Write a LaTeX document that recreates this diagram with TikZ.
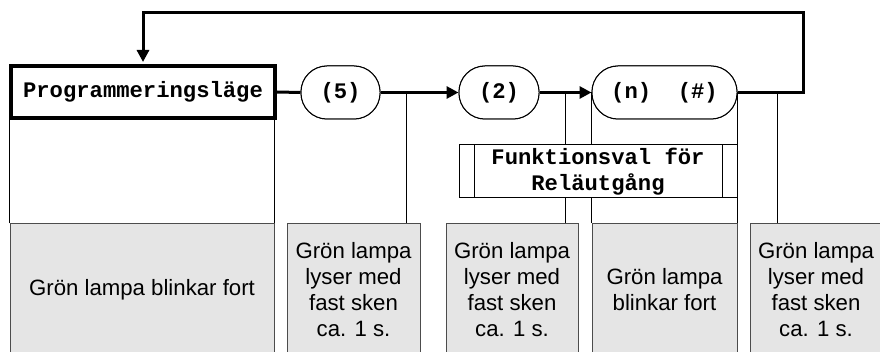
\documentclass[tikz,border=0pt]{standalone}
\usepackage{fontspec}
\setmainfont{Liberation Sans}
\setmonofont{Liberation Mono}
\usetikzlibrary{arrows.meta}
\begin{document}
\begin{tikzpicture}[x=1pt,y=-1pt,
 mono/.style={font=\ttfamily\bfseries\fontsize{22.2}{26}\selectfont},
 prog/.style={draw, line width=4pt, minimum width=264pt, minimum height=52pt, inner sep=0pt, mono, fill=white},
 pill/.style={draw, line width=1pt, rounded corners=26pt, minimum height=53pt, inner sep=0pt, mono, fill=white},
 sub/.style={draw, line width=1pt, minimum width=278pt, minimum height=53pt, inner sep=0pt, mono, align=center, fill=white},
 graybox/.style={draw=black!70, line width=1pt, fill=black!10, inner sep=0pt, align=center, minimum height=132pt, font=\fontsize{22.2}{26}\selectfont},
 conn/.style={line width=3pt},
 thinline/.style={line width=1pt},
 arr/.style={conn,-{Triangle[length=12pt,width=12pt]}}
]
\useasboundingbox (0,0) rectangle (880,352);
\clip (0,0) rectangle (880,352);

% gray boxes
\node[graybox, minimum width=264pt] (g1) at (142,290) {Grön lampa blinkar fort};
\node[graybox, minimum width=133pt] (g2) at (353.5,290) {Grön lampa\\lyser med\\fast sken\\ca. 1 s.};
\node[graybox, minimum width=132pt] (g3) at (512,290) {Grön lampa\\lyser med\\fast sken\\ca. 1 s.};
\node[graybox, minimum width=145pt] (g4) at (664.5,290) {Grön lampa\\blinkar fort};
\node[graybox, minimum width=132pt] (g5) at (816,290) {Grön lampa\\lyser med\\fast sken\\ca. 1 s.};

% main nodes (positions)
\node[prog] (prog) at (143,92) {Programmeringsläge};
\node[pill, minimum width=79pt] (p5) at (340.5,92.5) {(5)};
\node[pill, minimum width=80pt] (p2) at (499,92.5) {(2)};
\node[pill, minimum width=145pt] (pn) at (664.5,92.5) {(n)~~(\#)};

\coordinate (t5) at (406,93);
\coordinate (t2) at (565,93);
\coordinate (t6) at (777,93);
\coordinate (lr) at (803,13);

% vertical thin lines
\draw[thinline] (g1.north west) -- (g1.north west |- prog.south);
\draw[thinline] (g1.north east) -- (g1.north east |- prog.south);
\draw[thinline] (t5) -- (t5 |- g2.north);
\draw[thinline] (t2) -- (t2 |- g3.north);
\draw[thinline] (pn.west) -- (pn.west |- g4.north);
\draw[thinline] (pn.east) -- (pn.east |- g4.north);
\draw[thinline] (t6) -- (t6 |- g5.north);

% sub-process box
\node[sub] (fv) at (598,171.5) {Funktionsval för\\Reläutgång};
\draw[thinline] ([xshift=16pt]fv.north west) -- ([xshift=16pt]fv.south west);
\draw[thinline] ([xshift=-15pt]fv.north east) -- ([xshift=-15pt]fv.south east);

% redraw nodes on top
\node[prog] at (prog) {Programmeringsläge};
\node[pill, minimum width=79pt] at (p5) {(5)};
\node[pill, minimum width=80pt] at (p2) {(2)};
\node[pill, minimum width=145pt] at (pn) {(n)~~(\#)};

% connectors
\draw[conn] (prog.east) -- (p5.west);
\draw[arr] (p5.east) -- (p2.west);
\draw[arr] (p2.east) -- (pn.west);
\draw[arr, shorten >=2pt] (pn.east) -| (lr) -| (prog.north);
\end{tikzpicture}
\end{document}
